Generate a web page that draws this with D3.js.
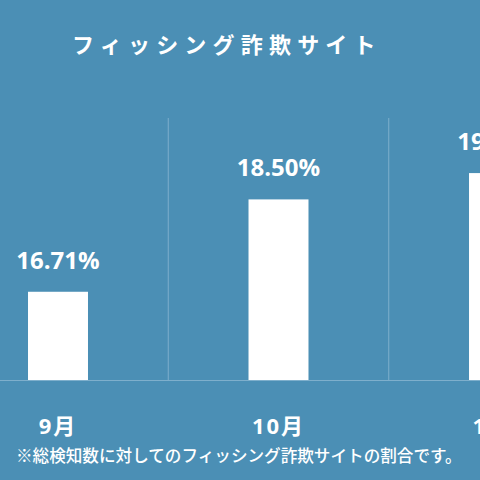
<!DOCTYPE html>
<html>
<head>
<meta charset="utf-8">
<script src="https://cdn.jsdelivr.net/npm/d3@7"></script>
<style>
  html, body { margin: 0; padding: 0; background: #4b8fb5; }
  svg { display: block; }
</style>
</head>
<body>
<svg id="chart" width="480" height="480"></svg>
<script>
const months = ['9月', '10月', '11月'];
const rates = [16.71, 18.50, 19.01];
const rateLabels = ['16.71%', '18.50%', '19.01%'];
const titleText = 'フィッシング詐欺サイト';
const noteText = '※総検知数に対してのフィッシング詐欺サイトの割合です。';

const width = 480;
const height = 480;
const baseY = 380;

const svg = d3.select('#chart');

svg.append('rect')
  .attr('width', width)
  .attr('height', height)
  .attr('fill', '#4b8fb5');

// the plot is wider than the picture, the third bar is cut off on the right
const xScale = d3.scaleBand()
  .domain(months)
  .range([-52.25, 609.25])
  .paddingInner(0.728)
  .paddingOuter(0.364);

const yScale = d3.scaleLinear()
  .domain([15, 20])
  .range([baseY, 122]);

const step = xScale.step();

// separators between months
svg.append('g')
  .selectAll('line')
  .data(months.slice(0, -1))
  .enter()
  .append('line')
  .attr('x1', d => xScale(d) + xScale.bandwidth() / 2 + step / 2)
  .attr('x2', d => xScale(d) + xScale.bandwidth() / 2 + step / 2)
  .attr('y1', 118)
  .attr('y2', baseY)
  .attr('stroke', '#7eafcc')
  .attr('stroke-width', 1);

svg.append('line')
  .attr('x1', 0)
  .attr('x2', width)
  .attr('y1', baseY + 0.5)
  .attr('y2', baseY + 0.5)
  .attr('stroke', '#7eafcc')
  .attr('stroke-width', 1);

const groups = svg.selectAll('.bar-group')
  .data(months)
  .enter()
  .append('g')
  .attr('class', 'bar-group');

groups.append('rect')
  .attr('x', d => xScale(d))
  .attr('y', (d, i) => yScale(rates[i]))
  .attr('width', xScale.bandwidth())
  .attr('height', (d, i) => baseY - yScale(rates[i]))
  .attr('fill', '#ffffff');

groups.append('text')
  .attr('x', d => xScale(d) + xScale.bandwidth() / 2)
  .attr('y', (d, i) => yScale(rates[i]) - 23)
  .attr('text-anchor', 'middle')
  .attr('fill', '#ffffff')
  .style('font-family', "'Open Sans', 'Noto Sans', sans-serif")
  .style('font-weight', 700)
  .style('font-size', '24px')
  .text((d, i) => rateLabels[i]);

groups.append('text')
  .attr('x', d => xScale(d) + xScale.bandwidth() / 2)
  .attr('y', 434)
  .attr('text-anchor', 'middle')
  .attr('fill', '#ffffff')
  .style('font-family', "'Open Sans', 'Noto Sans CJK JP', sans-serif")
  .style('font-weight', 700)
  .style('font-size', '22px')
  .style('letter-spacing', '2px')
  .text(d => d);

svg.append('text')
  .attr('x', 72)
  .attr('y', 53)
  .attr('fill', '#ffffff')
  .style('font-family', "'Noto Sans CJK JP', sans-serif")
  .style('font-weight', 700)
  .style('font-size', '22px')
  .style('letter-spacing', '6.2px')
  .text(titleText);

svg.append('text')
  .attr('x', 16)
  .attr('y', 462)
  .attr('fill', '#ffffff')
  .style('font-family', "'Noto Sans CJK JP', sans-serif")
  .style('font-weight', 500)
  .style('font-size', '16.6px')
  .text(noteText);
</script>
</body>
</html>
